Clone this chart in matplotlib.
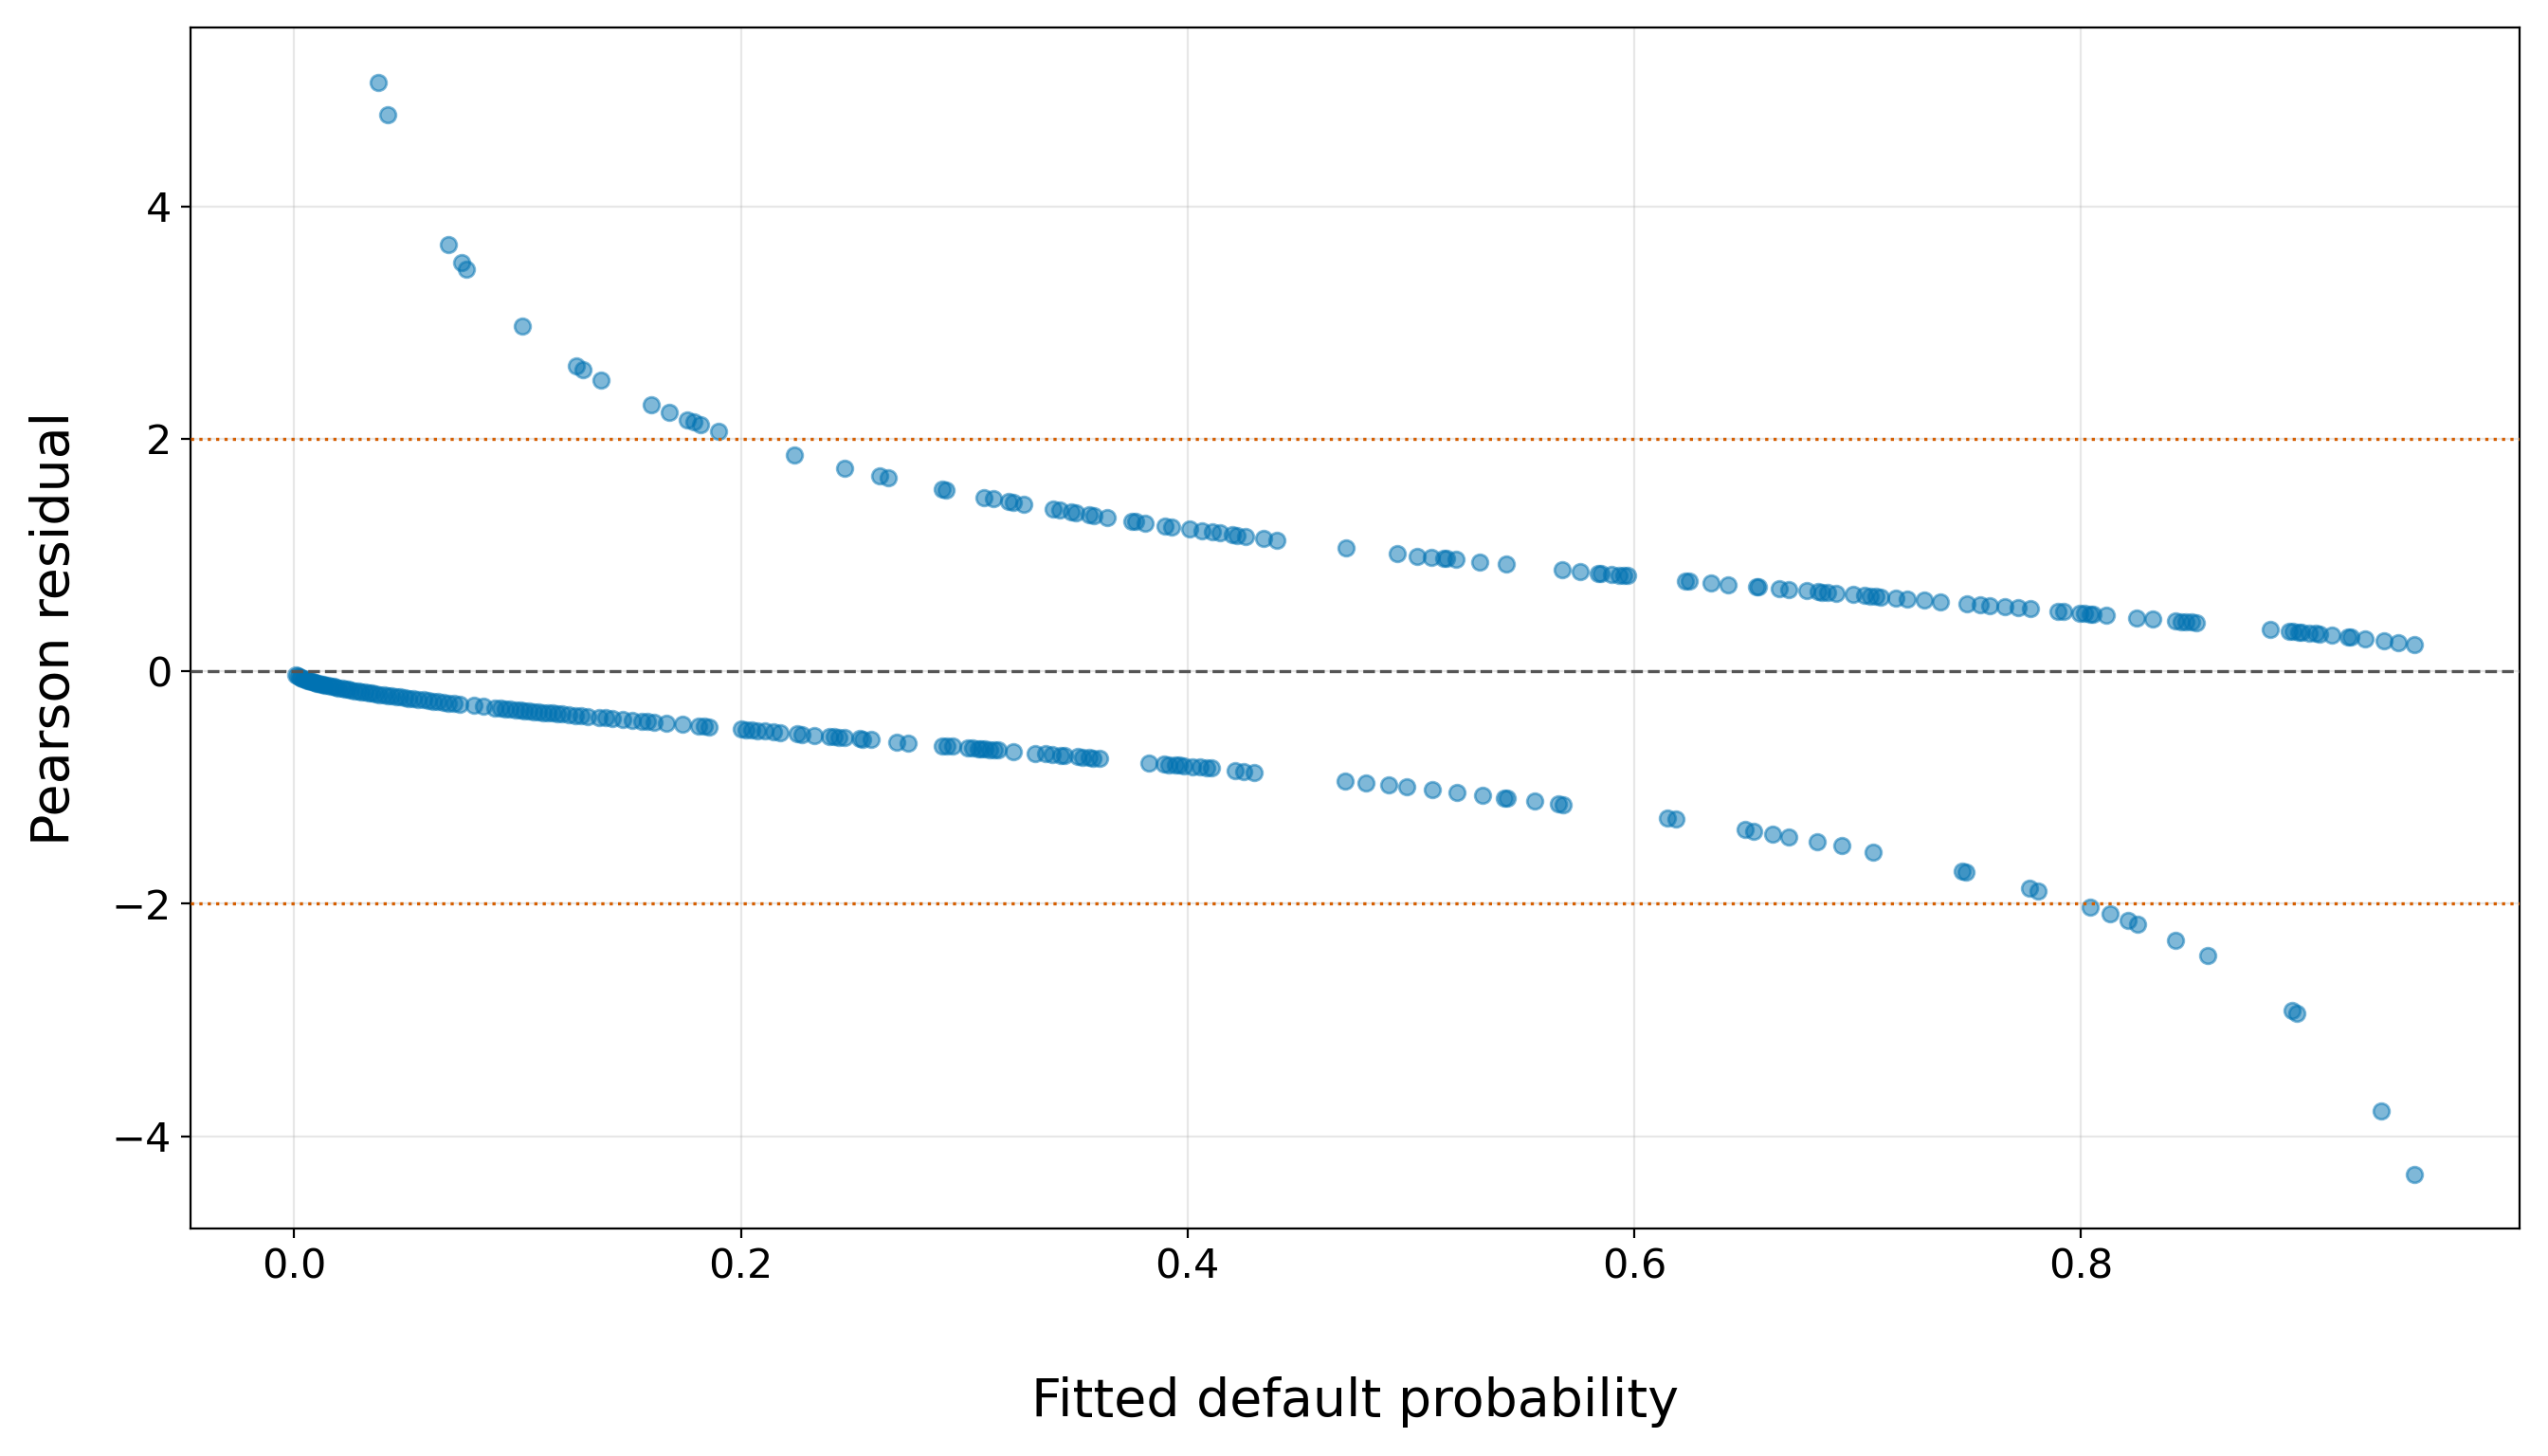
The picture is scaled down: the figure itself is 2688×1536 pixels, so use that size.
import matplotlib
matplotlib.use("Agg")
import matplotlib.pyplot as plt

# Observations that did NOT default (outcome 0): fitted probability and Pearson residual
nondefault_fitted = [
    0.0008, 0.0015, 0.0022, 0.003, 0.0038, 0.0045, 0.0053, 0.006, 0.0068, 0.0076,
    0.0085, 0.0093, 0.0102, 0.011, 0.012, 0.013, 0.014, 0.0152, 0.0163, 0.0175,
    0.0187, 0.02, 0.0213, 0.0226, 0.024, 0.0255, 0.027, 0.0285, 0.03, 0.0316,
    0.0332, 0.0348, 0.0365, 0.0382, 0.04, 0.0418, 0.0436, 0.0455, 0.0474, 0.0494,
    0.0514, 0.0535, 0.0556, 0.0578, 0.06, 0.0622, 0.0645, 0.0668, 0.0692, 0.0716,
    0.074, 0.0805, 0.0848, 0.090, 0.0925, 0.0946, 0.0968, 0.099, 0.1011, 0.1032,
    0.1053, 0.1074, 0.1095, 0.1116, 0.1137, 0.1158, 0.1179, 0.12, 0.1229, 0.1258,
    0.1286, 0.1314, 0.1367, 0.1396, 0.1425, 0.147, 0.1515, 0.1555, 0.1583, 0.1612,
    0.1667, 0.1739, 0.181, 0.1838, 0.1859, 0.200, 0.2025, 0.205, 0.2075, 0.2107,
    0.2145, 0.2175, 0.2251, 0.2273, 0.2327, 0.2395, 0.2418, 0.2441, 0.2463, 0.2531,
    0.2547, 0.2584, 0.2698, 0.2751, 0.2903, 0.2925, 0.2948, 0.3016, 0.3039, 0.3062,
    0.3076, 0.3092, 0.3115, 0.3137, 0.3153, 0.3221, 0.3319, 0.3364, 0.3395, 0.3433,
    0.3448, 0.3508, 0.3532, 0.3561, 0.3577, 0.3607, 0.3826, 0.3895, 0.3918, 0.3948,
    0.3964, 0.3986, 0.4024, 0.4055, 0.4085, 0.4107, 0.4213, 0.4251, 0.4297, 0.4705,
    0.480, 0.490, 0.498, 0.5096, 0.5207, 0.532, 0.542, 0.543, 0.5557, 0.5662,
    0.5683, 0.615, 0.6187, 0.6498, 0.6535, 0.6622, 0.6693, 0.6822, 0.693, 0.707,
    0.7468, 0.7488, 0.7772, 0.7809, 0.8043, 0.8133, 0.8211, 0.8255, 0.8423, 0.8567,
    0.8947, 0.8966, 0.9346, 0.9493,
]
nondefault_residual = [
    -0.0283, -0.0388, -0.0470, -0.0549, -0.0618, -0.0672, -0.0730, -0.0777, -0.0827, -0.0875,
    -0.0926, -0.0969, -0.1015, -0.1055, -0.1102, -0.1148, -0.1192, -0.1242, -0.1287, -0.1335,
    -0.1380, -0.1429, -0.1475, -0.1521, -0.1568, -0.1618, -0.1666, -0.1713, -0.1759, -0.1806,
    -0.1853, -0.1899, -0.1946, -0.1993, -0.2041, -0.2089, -0.2135, -0.2183, -0.2231, -0.2280,
    -0.2328, -0.2378, -0.2426, -0.2477, -0.2526, -0.2575, -0.2626, -0.2675, -0.2727, -0.2777,
    -0.2827, -0.2959, -0.3044, -0.3145, -0.3193, -0.3232, -0.3274, -0.3315, -0.3354, -0.3392,
    -0.3431, -0.3469, -0.3507, -0.3544, -0.3582, -0.3619, -0.3656, -0.3693, -0.3743, -0.3793,
    -0.3842, -0.3889, -0.3979, -0.4028, -0.4077, -0.4151, -0.4226, -0.4291, -0.4337, -0.4384,
    -0.4473, -0.4588, -0.4701, -0.4745, -0.4779, -0.5000, -0.5039, -0.5078, -0.5117, -0.5167,
    -0.5226, -0.5272, -0.5390, -0.5424, -0.5507, -0.5612, -0.5647, -0.5683, -0.5717, -0.5821,
    -0.5846, -0.5903, -0.6079, -0.6160, -0.6396, -0.6430, -0.6466, -0.6572, -0.6607, -0.6643,
    -0.6665, -0.6690, -0.6726, -0.6761, -0.6786, -0.6893, -0.7048, -0.7120, -0.7169, -0.7230,
    -0.7254, -0.7351, -0.7390, -0.7437, -0.7463, -0.7511, -0.7872, -0.7987, -0.8026, -0.8077,
    -0.8104, -0.8141, -0.8206, -0.8259, -0.8310, -0.8348, -0.8532, -0.8598, -0.8680, -0.9426,
    -0.9608, -0.9802, -0.9960, -1.0194, -1.0423, -1.0662, -1.0878, -1.0900, -1.1184, -1.1425,
    -1.1473, -1.2639, -1.2738, -1.3622, -1.3733, -1.4001, -1.4226, -1.4651, -1.5024, -1.5534,
    -1.7174, -1.7265, -1.8677, -1.8879, -2.0273, -2.0872, -2.1424, -2.1750, -2.3111, -2.4451,
    -2.9149, -2.9447, -3.7803, -4.3271,
]

# Observations that DID default (outcome 1)
default_fitted = [
    0.0375, 0.0418, 0.069, 0.075, 0.077, 0.102, 0.1265, 0.1295, 0.1375, 0.16,
    0.168, 0.176, 0.179, 0.182, 0.19, 0.224, 0.2465, 0.262, 0.266, 0.29,
    0.292, 0.309, 0.313, 0.32, 0.322, 0.3265, 0.34, 0.343, 0.348, 0.35,
    0.356, 0.358, 0.364, 0.375, 0.377, 0.381, 0.39, 0.393, 0.401, 0.4065,
    0.411, 0.4145, 0.42, 0.422, 0.426, 0.434, 0.44, 0.4709, 0.4941, 0.5029,
    0.5093, 0.5146, 0.5159, 0.5201, 0.531, 0.5426, 0.5677, 0.576, 0.5841, 0.5852,
    0.5898, 0.5933, 0.5956, 0.5973, 0.6228, 0.6245, 0.6344, 0.6423, 0.6548, 0.6557,
    0.6652, 0.6692, 0.6773, 0.6825, 0.6843, 0.6868, 0.6903, 0.6981, 0.7033, 0.7059,
    0.7085, 0.7103, 0.7172, 0.7225, 0.7298, 0.7371, 0.7492, 0.755, 0.7594, 0.7661,
    0.7722, 0.7774, 0.79, 0.7924, 0.7994, 0.8017, 0.8041, 0.8057, 0.8115, 0.825,
    0.8321, 0.8425, 0.8449, 0.8473, 0.8496, 0.852, 0.8847, 0.8936, 0.8952, 0.8975,
    0.8991, 0.9023, 0.9054, 0.907, 0.9124, 0.9195, 0.9211, 0.9273, 0.936, 0.9423,
    0.9493,
]
default_residual = [
    5.066, 4.788, 3.673, 3.512, 3.462, 2.967, 2.628, 2.593, 2.505, 2.291,
    2.225, 2.164, 2.142, 2.120, 2.065, 1.861, 1.748, 1.678, 1.661, 1.565,
    1.557, 1.495, 1.482, 1.458, 1.451, 1.436, 1.393, 1.384, 1.369, 1.363,
    1.345, 1.339, 1.322, 1.291, 1.286, 1.275, 1.251, 1.243, 1.222, 1.208,
    1.197, 1.189, 1.175, 1.170, 1.161, 1.142, 1.128, 1.060, 1.012, 0.988,
    0.9816, 0.9712, 0.9687, 0.9606, 0.9398, 0.9181, 0.8726, 0.858, 0.8438, 0.8419,
    0.834, 0.828, 0.824, 0.8211, 0.7782, 0.7754, 0.7591, 0.7463, 0.7261, 0.7246,
    0.7095, 0.7031, 0.6903, 0.6821, 0.6792, 0.6753, 0.6698, 0.6576, 0.6495, 0.6455,
    0.6414, 0.6386, 0.6279, 0.6197, 0.6085, 0.5972, 0.5786, 0.5697, 0.5629, 0.5526,
    0.5431, 0.5351, 0.5156, 0.5118, 0.5009, 0.4973, 0.4936, 0.4911, 0.482, 0.4606,
    0.4492, 0.4324, 0.4285, 0.4245, 0.4207, 0.4168, 0.361, 0.3451, 0.3422, 0.338,
    0.335, 0.3291, 0.3232, 0.3202, 0.3099, 0.2959, 0.2927, 0.28, 0.2615, 0.2475,
    0.2311,
]

threshold = 2

fig = plt.figure(figsize=(13.44, 7.68), dpi=200)
ax = fig.add_axes([0.0746, 0.156, 0.9144, 0.825])

fitted = nondefault_fitted + default_fitted
resid = nondefault_residual + default_residual
ax.scatter(fitted, resid, s=36, color="#0072B2", alpha=0.5, edgecolor="#0072B2",
           linewidths=1.0, zorder=2)

ax.axhline(0, color="#555555", linestyle="--", linewidth=1.2, zorder=3)
ax.axhline(threshold, color="#D55E00", linestyle=":", linewidth=1.2, zorder=3)
ax.axhline(-threshold, color="#D55E00", linestyle=":", linewidth=1.2, zorder=3)

ax.grid(True, color="#b0b0b0", alpha=0.3, linewidth=0.8)
ax.set_axisbelow(True)

ax.set_xlabel("Fitted default probability", fontsize=20, labelpad=34)
ax.set_ylabel("Pearson residual", fontsize=20, labelpad=12)
ax.tick_params(axis="both", labelsize=15.5)

fig.savefig("out.png", dpi=200)
